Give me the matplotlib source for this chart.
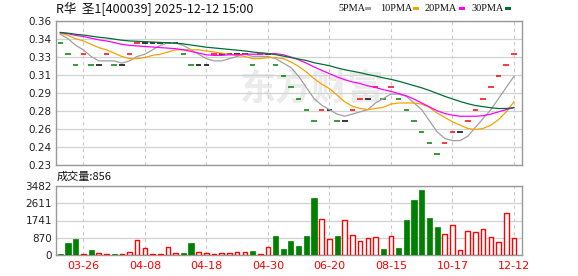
import matplotlib
matplotlib.use("Agg")
import matplotlib.pyplot as plt
import numpy as np
from matplotlib.patches import Rectangle

# closes before the visible window (only used to seed the moving averages)
history_close = [0.35, 0.35, 0.35, 0.35, 0.35, 0.35, 0.35, 0.35, 0.35, 0.35,
                 0.35, 0.35, 0.35, 0.35, 0.35, 0.35, 0.35, 0.35, 0.35, 0.35,
                 0.35, 0.35, 0.35, 0.35, 0.35, 0.35, 0.35, 0.35, 0.35]

close = [0.34, 0.33, 0.32, 0.33, 0.32, 0.32, 0.33, 0.32, 0.32, 0.33,
         0.34, 0.34, 0.34, 0.34, 0.34, 0.34, 0.33, 0.32, 0.32, 0.32,
         0.33, 0.33, 0.33, 0.33, 0.33, 0.32, 0.33, 0.33, 0.32, 0.31,
         0.30, 0.29, 0.28, 0.27, 0.28, 0.28, 0.27, 0.27, 0.28, 0.29,
         0.29, 0.30, 0.29, 0.30, 0.29, 0.28, 0.27, 0.26, 0.25, 0.24,
         0.25, 0.26, 0.26, 0.27, 0.28, 0.29, 0.30, 0.31, 0.32, 0.33]

volume = [70, 630, 815, 70, 255, 100, 50, 50, 50, 150,
          765, 357, 50, 50, 408, 100, 100, 630, 150, 100,
          51, 100, 100, 150, 150, 204, 51, 408, 970, 306,
          714, 459, 970, 2856, 1836, 816, 970, 1785, 1020, 714,
          867, 918, 306, 969, 357, 1785, 2771, 3264, 1887, 1428,
          1071, 1530, 255, 1224, 1173, 1326, 918, 663, 2142, 856]

date_index = [3, 11, 19, 27, 35, 43, 51, 59]
date_labels = ["03-26", "04-08", "04-18", "04-30", "06-20", "08-15", "10-17", "12-12"]
price_tick_labels = ["0.23", "0.24", "0.26", "0.28", "0.29", "0.31", "0.33", "0.34", "0.36"]
vol_tick_labels = ["0", "870", "1741", "2611", "3482"]

ma_periods = [5, 10, 20, 30]
ma_names = ["5PMA", "10PMA", "20PMA", "30PMA"]
ma_colors = ["#a0a0a0", "#f5a300", "#ff00ff", "#006f32"]

title = "R华  圣1[400039] 2025-12-12 15:00"
cjk = ["Noto Sans CJK SC", "DejaVu Sans"]

RED = "#ff0000"
GREEN = "#008000"
GRID = "#d2d2d2"
FRAME = "#999999"

full = np.array(history_close + close)
n_hist = len(history_close)
x = np.arange(len(close))
prev = full[n_hist - 1:-1]
cur = np.array(close)
delta = np.round(cur - prev, 4)

W, H = 578, 276
fig = plt.figure(figsize=(W / 100, H / 100), dpi=100)
ax = fig.add_axes([56 / W, 111 / H, 466 / W, 144 / H])
axv = fig.add_axes([56 / W, 21 / H, 466 / W, 69 / H])

for a in (ax, axv):
    a.set_xlim(-0.56, 60.05)
    a.set_xticks(date_index)
    a.grid(axis="x", color="#c8c8c8", lw=0.8, ls=(0, (3, 3)))
    a.grid(axis="y", color=GRID, lw=0.9, ls="-")
    a.set_axisbelow(True)
    a.tick_params(length=0, labelsize=7.5, labelcolor="#222222", pad=3)
    for s in a.spines.values():
        s.set_color(FRAME)
        s.set_linewidth(1.0)

# price panel
ax.set_ylim(0.23, 0.36)
ax.set_yticks(np.linspace(0.23, 0.36, len(price_tick_labels)))
ax.set_yticklabels(price_tick_labels)
ax.set_xticklabels([])

ax.text(0.55, 0.53, "东方财富", transform=ax.transAxes, ha="center", va="center",
        fontsize=26, fontweight="bold", color="#ebebeb", family=cjk, zorder=0.5)

cand_colors = ["#000000" if d == 0 else (RED if d > 0 else GREEN) for d in delta]
ax.hlines(close, x - 0.36, x + 0.36, colors=cand_colors, lw=1.1, zorder=3)

for p, c in zip(ma_periods, ma_colors):
    ma = np.convolve(full, np.ones(p) / p, mode="valid")[-len(close):]
    ax.plot(x, ma, color=c, lw=0.9, zorder=4)

# volume panel
vmax = 3482
axv.set_ylim(0, vmax)
axv.set_yticks(np.linspace(0, vmax, len(vol_tick_labels)))
axv.set_yticklabels(vol_tick_labels)
axv.set_xticklabels(date_labels, color=RED, fontsize=8)
axv.tick_params(axis="x", labelcolor=RED, pad=4)

up = delta >= 0
axv.bar(x[up], np.array(volume)[up], width=0.6, facecolor="white",
        edgecolor=RED, lw=1.0, zorder=3)
axv.bar(x[~up], np.array(volume)[~up], width=0.66, facecolor=GREEN,
        edgecolor=GREEN, lw=0.5, zorder=3)

# header texts
fig.text(56 / W, 1 - 9 / H, title, fontsize=9, va="center", ha="left",
         family=cjk, color="#111111")

legend_text_x = [338, 380, 425, 472]
legend_box_x = [365, 413, 459, 505]
for name, c, lx, bx in zip(ma_names, ma_colors, legend_text_x, legend_box_x):
    fig.text(lx / W, 1 - 8.5 / H, name, fontsize=7.4, va="center", ha="left",
             family="Liberation Serif", color="#111111")
    fig.patches.append(Rectangle((bx / W, 1 - 9.8 / H), 6 / W, 3 / H,
                                 transform=fig.transFigure, facecolor=c,
                                 edgecolor="none"))

fig.text(57 / W, 1 - 177 / H, f"成交量:{volume[-1]}", fontsize=8, va="center",
         ha="left", family=cjk, color="#111111")

fig.savefig("out.png", dpi=100)
